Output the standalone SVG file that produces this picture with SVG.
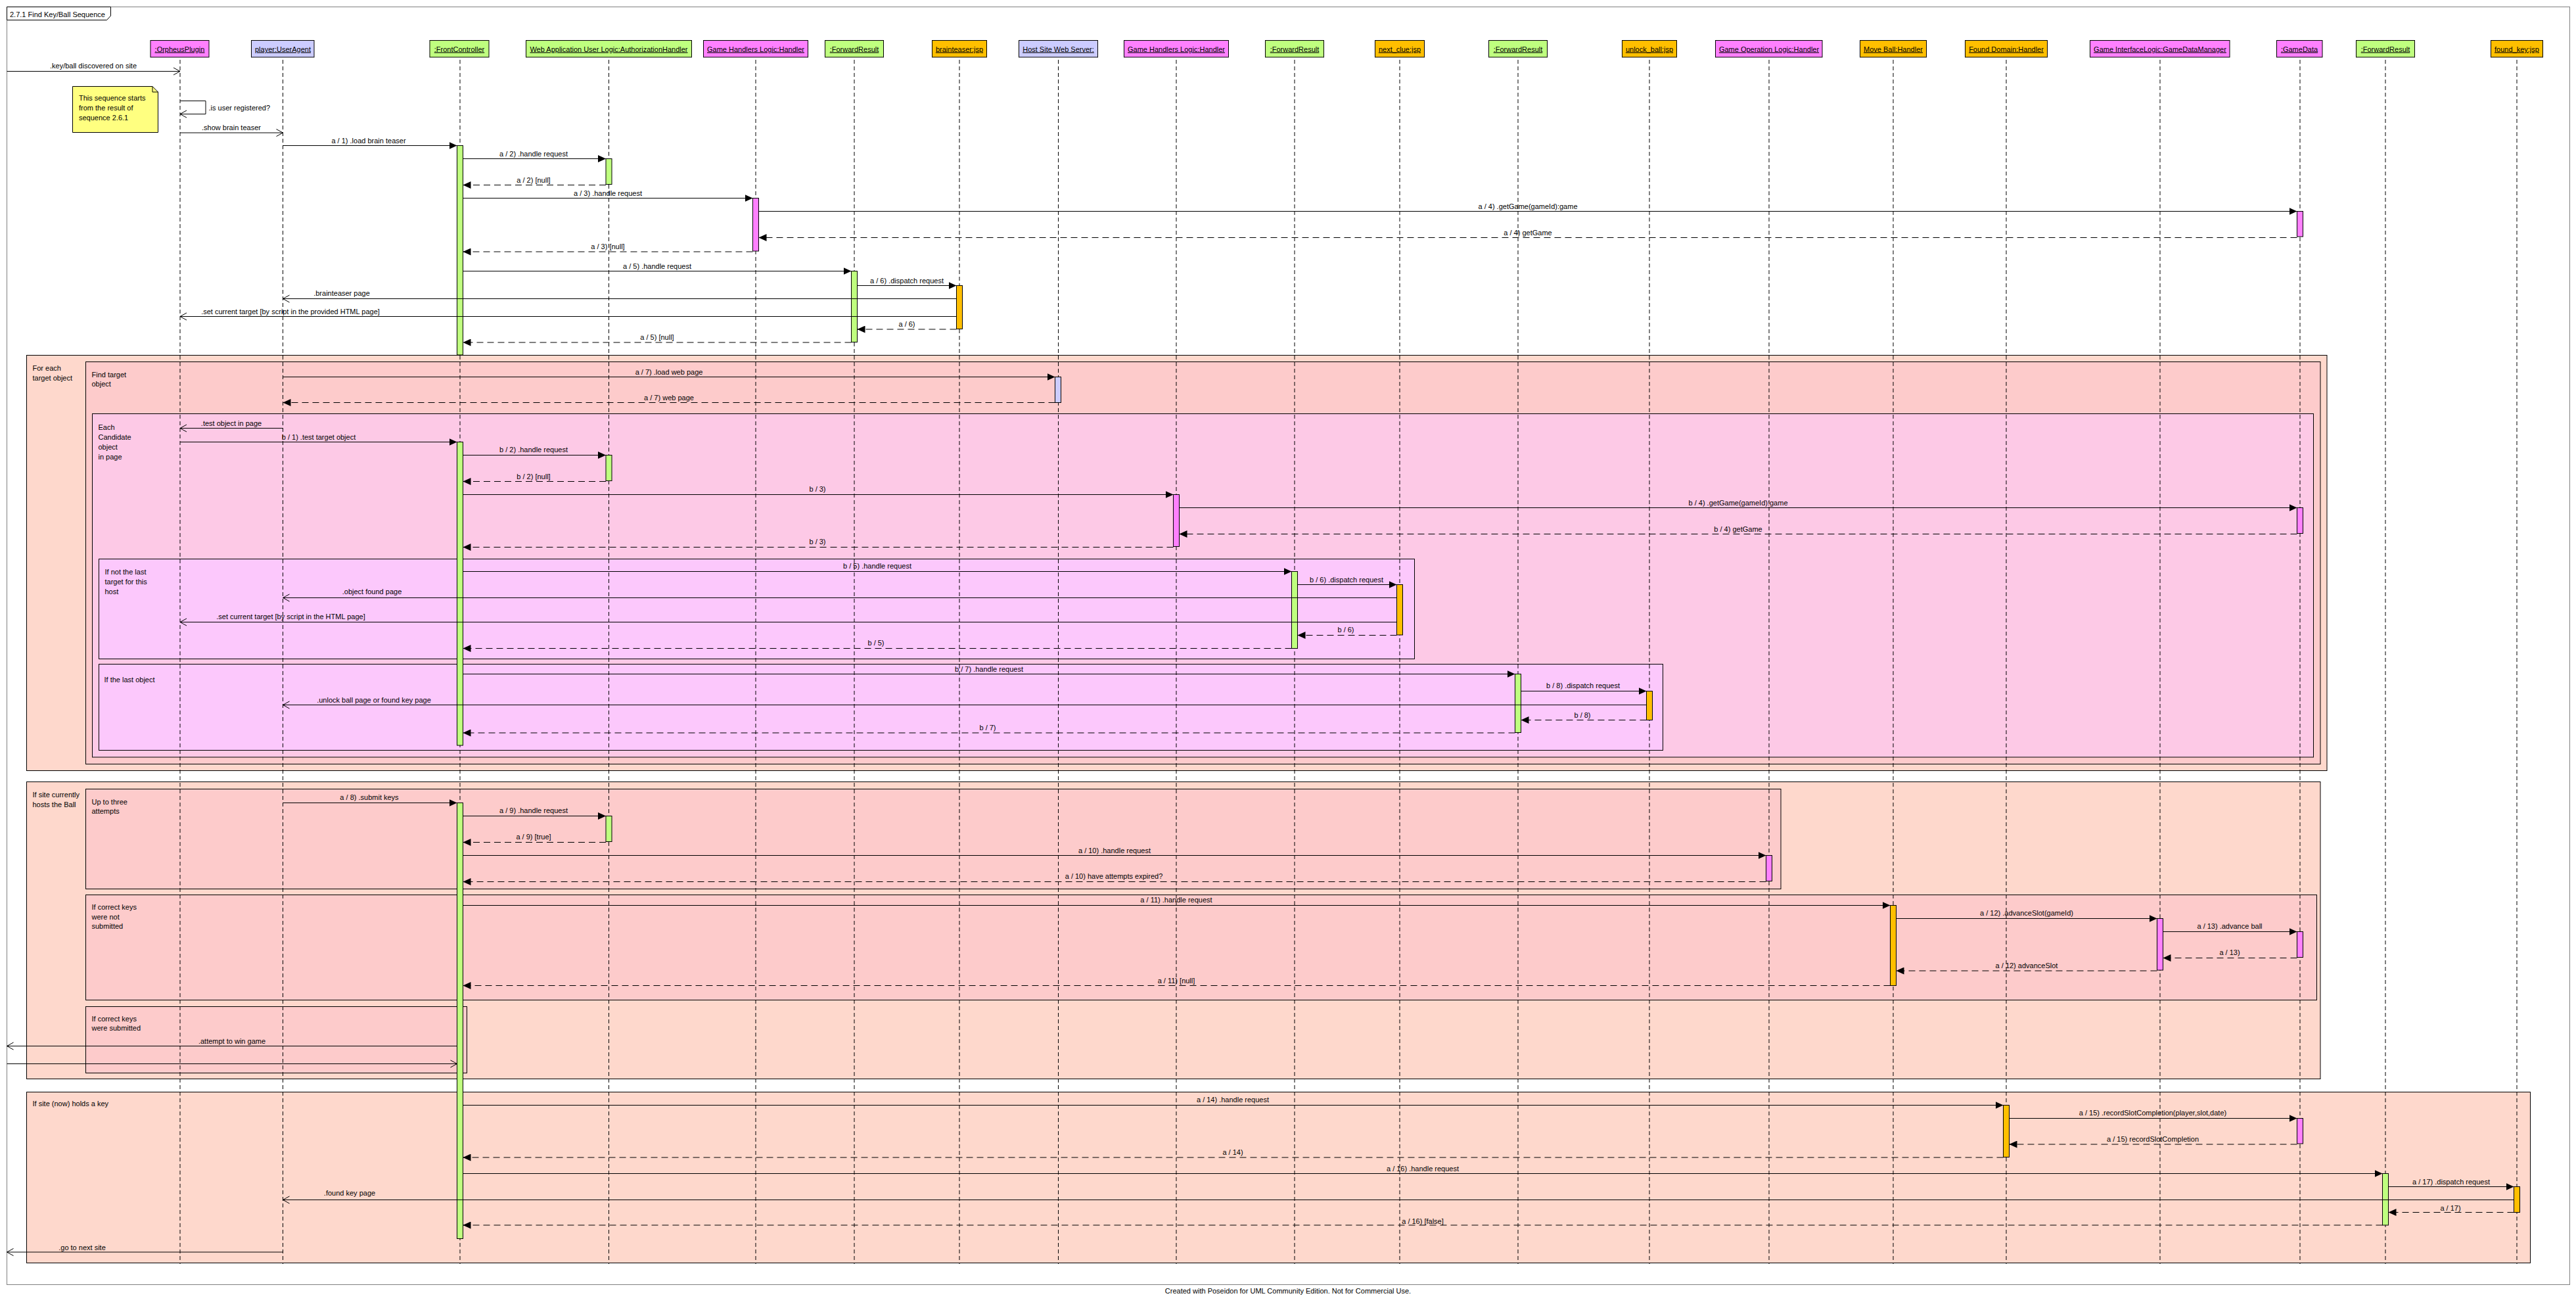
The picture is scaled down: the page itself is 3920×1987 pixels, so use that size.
<svg xmlns="http://www.w3.org/2000/svg" width="3920" height="1987" viewBox="0 0 3920 1987">
<style>
text{font-family:"Liberation Sans",Arial,sans-serif;font-size:11px;fill:#000}
.c{text-anchor:middle}
.u{text-decoration:underline}
.hd{stroke:#000;stroke-width:1}
.mag{fill:#FF80FF}
.lav{fill:#CCCCFF}
.grn{fill:#BFFF7F}
.org{fill:#FFBF00}
.ll{stroke:#000;stroke-width:1;stroke-dasharray:6,4;fill:none}
.act{stroke:#000;stroke-width:1}
.fr{stroke:#000;stroke-width:1}
.f1{fill:#FED8CC}
.f2{fill:#FDCBCB}
.f3{fill:#FDC9E6}
.f4{fill:#FCC8FC}
.msg{stroke:#000;stroke-width:1;fill:none;marker-end:url(#fa)}
.ret{stroke:#000;stroke-width:1;fill:none;stroke-dasharray:10,6;marker-end:url(#fa)}
.sig{stroke:#000;stroke-width:1;fill:none;marker-end:url(#oa)}
</style>
<defs>
<marker id="fa" markerWidth="12" markerHeight="11" refX="12" refY="5.5" orient="auto" markerUnits="userSpaceOnUse"><path d="M0,0 L12,5.5 L0,11 z" fill="#000"/></marker>
<marker id="oa" markerWidth="12" markerHeight="13" refX="10.5" refY="6.5" orient="auto" markerUnits="userSpaceOnUse"><path d="M0.5,1 L10.5,6.5 L0.5,12" fill="none" stroke="#000" stroke-width="1"/></marker>
</defs>
<rect width="3920" height="1987" fill="#fff"/>
<g id="frame">
<rect x="10.5" y="10.5" width="3900" height="1944" fill="none" stroke="#808080" stroke-width="1"/>
<path d="M10.5,10.5 H168.5 V24 L162.5,30.5 H10.5 Z" fill="#fff" stroke="#000" stroke-width="1"/>
<text x="15" y="25.5">2.7.1 Find Key/Ball Sequence</text>
</g>
<g id="frag-foreach">
<rect class="fr f1" x="40.5" y="540.5" width="3500.5" height="632"/>
<text x="49.5" y="563.5">For each</text><text x="49.5" y="578.5">target object</text>
</g>
<g id="frag-findtarget">
<rect class="fr f2" x="130.5" y="550.5" width="3400.5" height="612"/>
<text x="139.5" y="573.5">Find target</text><text x="139.5" y="588">object</text>
</g>
<g id="frag-eachcandidate">
<rect class="fr f3" x="140.5" y="629.5" width="3380" height="522.5"/>
<text x="149.5" y="653.5">Each</text><text x="149.5" y="668.5">Candidate</text><text x="149.5" y="683.5">object</text><text x="149.5" y="698.5">in page</text>
</g>
<g id="frag-notlast">
<rect class="fr f4" x="150.5" y="850.5" width="2002" height="152"/>
<text x="159.5" y="873.5">If not the last</text><text x="159.5" y="888.5">target for this</text><text x="159.5" y="903.5">host</text>
</g>
<g id="frag-last">
<rect class="fr f4" x="150.5" y="1010.5" width="2380" height="131"/>
<text x="158.5" y="1038">If the last object</text>
</g>
<g id="frag-hostsball">
<rect class="fr f1" x="40.5" y="1189.5" width="3490.5" height="452"/>
<text x="49.5" y="1213">If site currently</text><text x="49.5" y="1228">hosts the Ball</text>
</g>
<g id="frag-threeattempts">
<rect class="fr f2" x="130.5" y="1200.5" width="2579.5" height="152"/>
<text x="139.5" y="1223.5">Up to three</text><text x="139.5" y="1238">attempts</text>
</g>
<g id="frag-notsubmitted">
<rect class="fr f2" x="130.5" y="1361.5" width="3395" height="160"/>
<text x="139.5" y="1383.5">If correct keys</text><text x="139.5" y="1398.5">were not</text><text x="139.5" y="1413">submitted</text>
</g>
<g id="frag-submitted">
<rect class="fr f2" x="130.5" y="1531.5" width="580" height="101"/>
<text x="139.5" y="1553.5">If correct keys</text><text x="139.5" y="1568">were submitted</text>
</g>
<g id="frag-holdskey">
<rect class="fr f1" x="40.5" y="1661.5" width="3810" height="260"/>
<text x="49.5" y="1683">If site (now) holds a key</text>
</g>
<g id="note">
<path d="M110.5,131.5 H232 L240.5,140 V201.5 H110.5 Z" fill="#FFFF80" stroke="#000" stroke-width="1"/>
<path d="M232,131.5 V140 H240.5" fill="none" stroke="#000" stroke-width="1"/>
<text x="120" y="153">This sequence starts</text><text x="120" y="168">from the result of</text><text x="120" y="183">sequence 2.6.1</text>
</g>
<g id="n-orpheus">
<rect class="hd mag" x="229" y="61.5" width="89" height="25.5"/>
<text class="c u" x="273.5" y="78.5">:OrpheusPlugin</text>
<line class="ll" x1="274" y1="91" x2="274" y2="1923"/>
</g>
<g id="n-useragent">
<rect class="hd lav" x="382.5" y="61.5" width="95.5" height="25.5"/>
<text class="c u" x="430.5" y="78.5">player:UserAgent</text>
<line class="ll" x1="430.5" y1="91" x2="430.5" y2="1923"/>
</g>
<g id="n-frontcontroller">
<rect class="hd grn" x="654" y="61.5" width="90" height="25.5"/>
<text class="c u" x="699" y="78.5">:FrontController</text>
<line class="ll" x1="700" y1="91" x2="700" y2="1923"/>
<rect class="act grn" x="695.5" y="221.5" width="9" height="318.5"/>
<rect class="act grn" x="695.5" y="672.5" width="9" height="461.5"/>
<rect class="act grn" x="695.5" y="1221.5" width="9" height="663"/>
</g>
<g id="n-authhandler">
<rect class="hd grn" x="800.5" y="61.5" width="252" height="25.5"/>
<text class="c u" x="926.5" y="78.5">Web Application User Logic:AuthorizationHandler</text>
<line class="ll" x1="926.5" y1="91" x2="926.5" y2="1923"/>
<rect class="act grn" x="922" y="241.5" width="9" height="39"/>
<rect class="act grn" x="922" y="692.5" width="9" height="39"/>
<rect class="act grn" x="922" y="1241.5" width="9" height="39"/>
</g>
<g id="n-gamehandlers1">
<rect class="hd mag" x="1070.5" y="61.5" width="159" height="25.5"/>
<text class="c u" x="1150" y="78.5">Game Handlers Logic:Handler</text>
<line class="ll" x1="1150" y1="91" x2="1150" y2="1923"/>
<rect class="act mag" x="1145.5" y="301.5" width="9" height="80.5"/>
</g>
<g id="n-forward1">
<rect class="hd grn" x="1255.5" y="61.5" width="89" height="25.5"/>
<text class="c u" x="1300" y="78.5">:ForwardResult</text>
<line class="ll" x1="1300" y1="91" x2="1300" y2="1923"/>
<rect class="act grn" x="1295.5" y="412.5" width="9" height="108"/>
</g>
<g id="n-brainteaser">
<rect class="hd org" x="1418.5" y="61.5" width="83" height="25.5"/>
<text class="c u" x="1460" y="78.5">brainteaser:jsp</text>
<line class="ll" x1="1460" y1="91" x2="1460" y2="1923"/>
<rect class="act org" x="1455.5" y="434.5" width="9" height="66"/>
</g>
<g id="n-hostsite">
<rect class="hd lav" x="1550.5" y="61.5" width="120" height="25.5"/>
<text class="c u" x="1610.5" y="78.5">Host Site Web Server:</text>
<line class="ll" x1="1610.5" y1="91" x2="1610.5" y2="1923"/>
<rect class="act lav" x="1605.5" y="573.5" width="9" height="39"/>
</g>
<g id="n-gamehandlers2">
<rect class="hd mag" x="1710.5" y="61.5" width="159" height="25.5"/>
<text class="c u" x="1790" y="78.5">Game Handlers Logic:Handler</text>
<line class="ll" x1="1790" y1="91" x2="1790" y2="1923"/>
<rect class="act mag" x="1785.5" y="752.5" width="9" height="79"/>
</g>
<g id="n-forward2">
<rect class="hd grn" x="1925.5" y="61.5" width="89" height="25.5"/>
<text class="c u" x="1970" y="78.5">:ForwardResult</text>
<line class="ll" x1="1970" y1="91" x2="1970" y2="1923"/>
<rect class="act grn" x="1965.5" y="869.5" width="9" height="117"/>
</g>
<g id="n-nextclue">
<rect class="hd org" x="2092.5" y="61.5" width="75" height="25.5"/>
<text class="c u" x="2130" y="78.5">next_clue:jsp</text>
<line class="ll" x1="2130" y1="91" x2="2130" y2="1923"/>
<rect class="act org" x="2125.5" y="889.5" width="9" height="76.5"/>
</g>
<g id="n-forward3">
<rect class="hd grn" x="2265.5" y="61.5" width="89" height="25.5"/>
<text class="c u" x="2310" y="78.5">:ForwardResult</text>
<line class="ll" x1="2310" y1="91" x2="2310" y2="1923"/>
<rect class="act grn" x="2305.5" y="1025.5" width="9" height="89"/>
</g>
<g id="n-unlockball">
<rect class="hd org" x="2468.5" y="61.5" width="83" height="25.5"/>
<text class="c u" x="2510" y="78.5">unlock_ball:jsp</text>
<line class="ll" x1="2510" y1="91" x2="2510" y2="1923"/>
<rect class="act org" x="2505.5" y="1051.5" width="9" height="44"/>
</g>
<g id="n-gameoperation">
<rect class="hd mag" x="2610.5" y="61.5" width="162.5" height="25.5"/>
<text class="c u" x="2692" y="78.5">Game Operation Logic:Handler</text>
<line class="ll" x1="2692" y1="91" x2="2692" y2="1923"/>
<rect class="act mag" x="2687.5" y="1301.5" width="9" height="39"/>
</g>
<g id="n-moveball">
<rect class="hd org" x="2830.5" y="61.5" width="101" height="25.5"/>
<text class="c u" x="2881" y="78.5">Move Ball:Handler</text>
<line class="ll" x1="2881" y1="91" x2="2881" y2="1923"/>
<rect class="act org" x="2876.5" y="1377.5" width="9" height="122"/>
</g>
<g id="n-founddomain">
<rect class="hd org" x="2990.5" y="61.5" width="125" height="25.5"/>
<text class="c u" x="3053" y="78.5">Found Domain:Handler</text>
<line class="ll" x1="3053" y1="91" x2="3053" y2="1923"/>
<rect class="act org" x="3048.5" y="1681.5" width="9" height="79"/>
</g>
<g id="n-gamedatamanager">
<rect class="hd mag" x="3180.5" y="61.5" width="212.5" height="25.5"/>
<text class="c u" x="3287" y="78.5">Game InterfaceLogic:GameDataManager</text>
<line class="ll" x1="3287" y1="91" x2="3287" y2="1923"/>
<rect class="act mag" x="3282.5" y="1397.5" width="9" height="78.5"/>
</g>
<g id="n-gamedata">
<rect class="hd mag" x="3464.5" y="61.5" width="69.5" height="25.5"/>
<text class="c u" x="3499" y="78.5">:GameData</text>
<line class="ll" x1="3500" y1="91" x2="3500" y2="1923"/>
<rect class="act mag" x="3495.5" y="321.5" width="9" height="38.5"/>
<rect class="act mag" x="3495.5" y="772.5" width="9" height="39"/>
<rect class="act mag" x="3495.5" y="1417.5" width="9" height="39"/>
<rect class="act mag" x="3495.5" y="1701.5" width="9" height="38.5"/>
</g>
<g id="n-forward4">
<rect class="hd grn" x="3585.5" y="61.5" width="89" height="25.5"/>
<text class="c u" x="3630" y="78.5">:ForwardResult</text>
<line class="ll" x1="3630" y1="91" x2="3630" y2="1923"/>
<rect class="act grn" x="3625.5" y="1785.5" width="9" height="78.5"/>
</g>
<g id="n-foundkey">
<rect class="hd org" x="3790.5" y="61.5" width="79" height="25.5"/>
<text class="c u" x="3830" y="78.5">found_key:jsp</text>
<line class="ll" x1="3830" y1="91" x2="3830" y2="1923"/>
<rect class="act org" x="3825.5" y="1805.5" width="9" height="39"/>
</g>
<g id="connectors">
<line class="sig" x1="10.5" y1="108.5" x2="274" y2="108.5"/><text class="c" x="142" y="104">.key/ball discovered on site</text>
<path class="sig" d="M274,153.5 H313 V173.5 H274"/><text x="317.5" y="168">.is user registered?</text>
<line class="sig" x1="274" y1="202" x2="430.5" y2="202"/><text class="c" x="352" y="197.5">.show brain teaser</text>
<line class="msg" x1="430.5" y1="221.5" x2="695.5" y2="221.5"/><text class="c" x="561" y="217.5">a / 1) .load brain teaser</text>
<line class="msg" x1="704.5" y1="241.5" x2="922" y2="241.5"/><text class="c" x="812" y="237.5">a / 2) .handle request</text>
<line class="ret" x1="922" y1="281.5" x2="704.5" y2="281.5"/><text class="c" x="812" y="277.5">a / 2) [null]</text>
<line class="msg" x1="704.5" y1="301.5" x2="1145.5" y2="301.5"/><text class="c" x="925" y="297.5">a / 3) .handle request</text>
<line class="msg" x1="1154.5" y1="321.5" x2="3495.5" y2="321.5"/><text class="c" x="2325" y="317.5">a / 4) .getGame(gameId):game</text>
<line class="ret" x1="3495.5" y1="361.5" x2="1154.5" y2="361.5"/><text class="c" x="2325" y="357.5">a / 4) getGame</text>
<line class="ret" x1="1145.5" y1="383" x2="704.5" y2="383"/><text class="c" x="925" y="379">a / 3) [null]</text>
<line class="msg" x1="704.5" y1="412.5" x2="1295.5" y2="412.5"/><text class="c" x="1000" y="408.5">a / 5) .handle request</text>
<line class="msg" x1="1304.5" y1="434.5" x2="1455.5" y2="434.5"/><text class="c" x="1380" y="430.5">a / 6) .dispatch request</text>
<line class="sig" x1="1455.5" y1="454.5" x2="430.5" y2="454.5"/><text class="c" x="520" y="450">.brainteaser page</text>
<line class="sig" x1="1455.5" y1="481.5" x2="274" y2="481.5"/><text class="c" x="442" y="477.5">.set current target [by script in the provided HTML page]</text>
<line class="ret" x1="1455.5" y1="501" x2="1304.5" y2="501"/><text class="c" x="1380" y="497">a / 6)</text>
<line class="ret" x1="1295.5" y1="521" x2="704.5" y2="521"/><text class="c" x="1000" y="517">a / 5) [null]</text>
<line class="msg" x1="430.5" y1="573.5" x2="1605.5" y2="573.5"/><text class="c" x="1018" y="569.5">a / 7) .load web page</text>
<line class="ret" x1="1605.5" y1="612.5" x2="430.5" y2="612.5"/><text class="c" x="1018" y="609">a / 7) web page</text>
<line class="sig" x1="430.5" y1="651.5" x2="274" y2="651.5"/><text class="c" x="352" y="647.5">.test object in page</text>
<line class="msg" x1="274" y1="672.5" x2="695.5" y2="672.5"/><text class="c" x="485" y="668.5">b / 1) .test target object</text>
<line class="msg" x1="704.5" y1="692.5" x2="922" y2="692.5"/><text class="c" x="812" y="688">b / 2) .handle request</text>
<line class="ret" x1="922" y1="732.5" x2="704.5" y2="732.5"/><text class="c" x="812" y="728.5">b / 2) [null]</text>
<line class="msg" x1="704.5" y1="752.5" x2="1785.5" y2="752.5"/><text class="c" x="1244" y="748">b / 3)</text>
<line class="msg" x1="1794.5" y1="772.5" x2="3495.5" y2="772.5"/><text class="c" x="2645" y="768.5">b / 4) .getGame(gameId):game</text>
<line class="ret" x1="3495.5" y1="812.5" x2="1794.5" y2="812.5"/><text class="c" x="2645" y="808.5">b / 4) getGame</text>
<line class="ret" x1="1785.5" y1="832.5" x2="704.5" y2="832.5"/><text class="c" x="1244" y="828">b / 3)</text>
<line class="msg" x1="704.5" y1="869.5" x2="1965.5" y2="869.5"/><text class="c" x="1335" y="865">b / 5) .handle request</text>
<line class="msg" x1="1974.5" y1="889.5" x2="2125.5" y2="889.5"/><text class="c" x="2049" y="885.5">b / 6) .dispatch request</text>
<line class="sig" x1="2125.5" y1="909.5" x2="430.5" y2="909.5"/><text class="c" x="566" y="903.5">.object found page</text>
<line class="sig" x1="2125.5" y1="946.5" x2="274" y2="946.5"/><text class="c" x="442.5" y="942">.set current target [by script in the HTML page]</text>
<line class="ret" x1="2125.5" y1="966.5" x2="1974.5" y2="966.5"/><text class="c" x="2048" y="962">b / 6)</text>
<line class="ret" x1="1965.5" y1="986.5" x2="704.5" y2="986.5"/><text class="c" x="1333" y="982">b / 5)</text>
<line class="msg" x1="704.5" y1="1025.5" x2="2305.5" y2="1025.5"/><text class="c" x="1505" y="1021.5">b / 7) .handle request</text>
<line class="msg" x1="2314.5" y1="1051.5" x2="2505.5" y2="1051.5"/><text class="c" x="2409" y="1047">b / 8) .dispatch request</text>
<line class="sig" x1="2505.5" y1="1072.5" x2="430.5" y2="1072.5"/><text class="c" x="569" y="1068.5">.unlock ball page or found key page</text>
<line class="ret" x1="2505.5" y1="1095.5" x2="2314.5" y2="1095.5"/><text class="c" x="2408" y="1091.5">b / 8)</text>
<line class="ret" x1="2305.5" y1="1115" x2="704.5" y2="1115"/><text class="c" x="1503" y="1111">b / 7)</text>
<line class="msg" x1="430.5" y1="1221.5" x2="695.5" y2="1221.5"/><text class="c" x="562" y="1217">a / 8) .submit keys</text>
<line class="msg" x1="704.5" y1="1241.5" x2="922" y2="1241.5"/><text class="c" x="812" y="1237">a / 9) .handle request</text>
<line class="ret" x1="922" y1="1281.5" x2="704.5" y2="1281.5"/><text class="c" x="812" y="1277">a / 9) [true]</text>
<line class="msg" x1="704.5" y1="1301.5" x2="2687.5" y2="1301.5"/><text class="c" x="1696" y="1297.5">a / 10) .handle request</text>
<line class="ret" x1="2687.5" y1="1341.5" x2="704.5" y2="1341.5"/><text class="c" x="1695" y="1337">a / 10) have attempts expired?</text>
<line class="msg" x1="704.5" y1="1377.5" x2="2876.5" y2="1377.5"/><text class="c" x="1790" y="1373">a / 11) .handle request</text>
<line class="msg" x1="2885.5" y1="1397.5" x2="3282.5" y2="1397.5"/><text class="c" x="3084" y="1393">a / 12) .advanceSlot(gameId)</text>
<line class="msg" x1="3291.5" y1="1417.5" x2="3495.5" y2="1417.5"/><text class="c" x="3393" y="1413">a / 13) .advance ball</text>
<line class="ret" x1="3495.5" y1="1457.5" x2="3291.5" y2="1457.5"/><text class="c" x="3393" y="1453">a / 13)</text>
<line class="ret" x1="3282.5" y1="1477" x2="2885.5" y2="1477" /><text class="c" x="3084" y="1473">a / 12) advanceSlot</text>
<line class="ret" x1="2876.5" y1="1499.5" x2="704.5" y2="1499.5"/><text class="c" x="1790" y="1496">a / 11) [null]</text>
<line class="sig" x1="695.5" y1="1591.5" x2="10.5" y2="1591.5"/><text class="c" x="353" y="1587.5">.attempt to win game</text>
<line class="sig" x1="10.5" y1="1618.5" x2="695.5" y2="1618.5"/>
<line class="msg" x1="704.5" y1="1681.5" x2="3048.5" y2="1681.5"/><text class="c" x="1876" y="1677">a / 14) .handle request</text>
<line class="msg" x1="3057.5" y1="1701.5" x2="3495.5" y2="1701.5"/><text class="c" x="3276" y="1697">a / 15) .recordSlotCompletion(player,slot,date)</text>
<line class="ret" x1="3495.5" y1="1741" x2="3057.5" y2="1741"/><text class="c" x="3276" y="1737">a / 15) recordSlotCompletion</text>
<line class="ret" x1="3048.5" y1="1761" x2="704.5" y2="1761"/><text class="c" x="1876" y="1757">a / 14)</text>
<line class="msg" x1="704.5" y1="1785.5" x2="3625.5" y2="1785.5"/><text class="c" x="2165" y="1781.5">a / 16) .handle request</text>
<line class="msg" x1="3634.5" y1="1805.5" x2="3825.5" y2="1805.5"/><text class="c" x="3730" y="1801.5">a / 17) .dispatch request</text>
<line class="sig" x1="3825.5" y1="1825.5" x2="430.5" y2="1825.5"/><text class="c" x="532" y="1819">.found key page</text>
<line class="ret" x1="3825.5" y1="1844.5" x2="3634.5" y2="1844.5"/><text class="c" x="3729" y="1841.5">a / 17)</text>
<line class="ret" x1="3625.5" y1="1864" x2="704.5" y2="1864"/><text class="c" x="2165" y="1861.5">a / 16) [false]</text>
<line class="sig" x1="430.5" y1="1905" x2="10.5" y2="1905"/><text class="c" x="125" y="1901.5">.go to next site</text>
</g>
<text class="c" x="1960" y="1968">Created with Poseidon for UML Community Edition. Not for Commercial Use.</text>
</svg>
